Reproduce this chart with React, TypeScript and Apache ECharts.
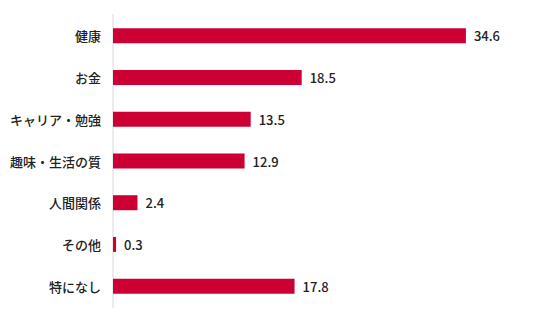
import React, { useEffect, useRef } from "react";
import * as echarts from "echarts";

const categories = ["健康", "お金", "キャリア・勉強", "趣味・生活の質", "人間関係", "その他", "特になし"];
const values = [34.6, 18.5, 13.5, 12.9, 2.4, 0.3, 17.8];

export default function App() {
  const ref = useRef<HTMLDivElement>(null);
  useEffect(() => {
    if (!ref.current) return;
    const chart = echarts.init(ref.current, undefined, { renderer: "svg" });
    const font = "'Noto Sans CJK JP', 'Noto Sans', sans-serif";
    chart.setOption({
      animation: false,
      grid: { left: 113, right: 15, top: 15, bottom: 15, containLabel: false },
      xAxis: {
        type: "value",
        min: 0,
        max: 40,
        show: false,
      },
      yAxis: {
        type: "category",
        data: categories,
        inverse: true,
        axisLine: { show: true, lineStyle: { color: "#ebebeb", width: 2 } },
        axisTick: { show: false },
        axisLabel: {
          margin: 12,
          color: "#222",
          fontSize: 13,
          fontWeight: 500,
          fontFamily: font,
        },
        splitLine: { show: false },
      },
      series: [
        {
          type: "bar",
          data: values,
          barWidth: 15,
          itemStyle: { color: "#cc0033" },
          label: {
            show: true,
            position: "right",
            distance: 8,
            color: "#222",
            fontSize: 13,
            fontWeight: 500,
            fontFamily: font,
            formatter: (p: any) => p.value.toFixed(1),
          },
        },
      ],
    });
    return () => chart.dispose();
  }, []);
  return <div ref={ref} style={{ width: 536, height: 322, margin: -8 }} />;
}
